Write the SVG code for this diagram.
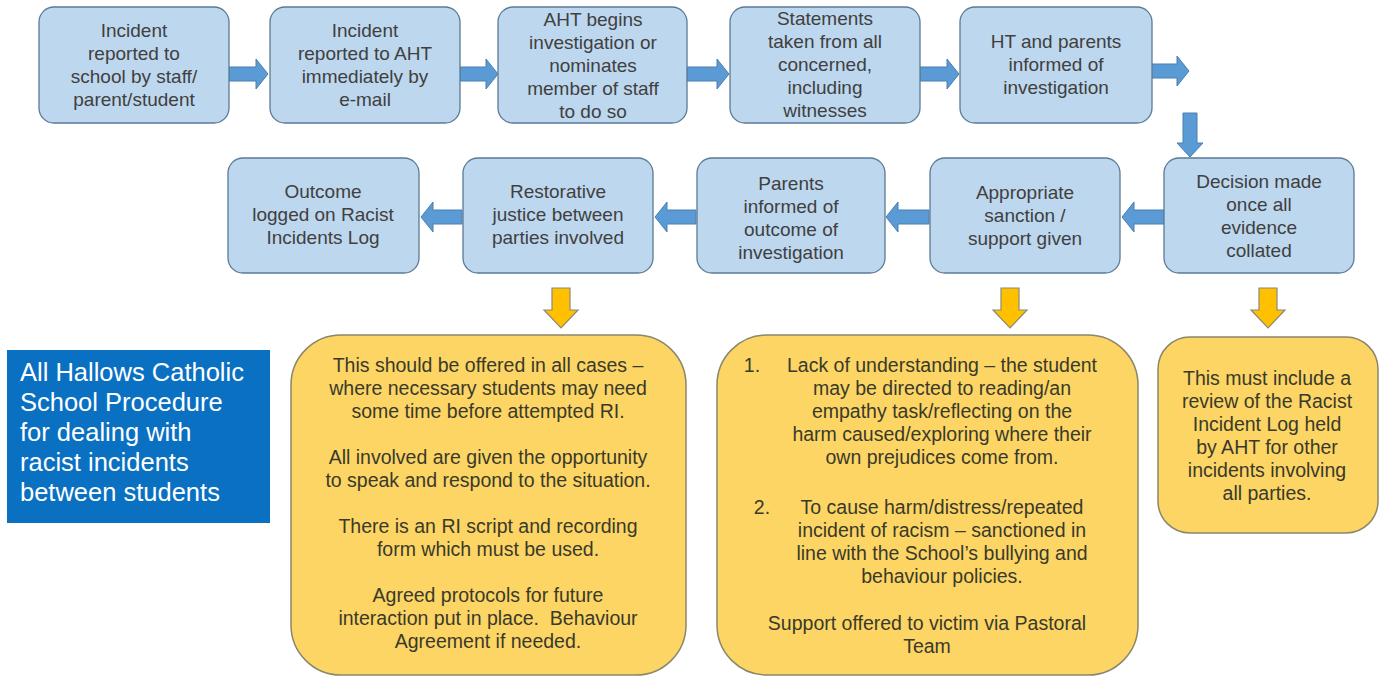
<svg xmlns="http://www.w3.org/2000/svg" width="1384" height="677" viewBox="0 0 1384 677">
<style>
.bx{fill:#bdd7ee;stroke:#5b7a96;stroke-width:1.3}
.yb{fill:#fcd565;stroke:#8a876a;stroke-width:1.5}
.t{font-family:"Liberation Sans",Arial,sans-serif;font-size:19px;fill:#404040;text-anchor:middle}
.ty{font-family:"Liberation Sans",Arial,sans-serif;font-size:19.5px;fill:#3a3a2a;text-anchor:middle}
.ttl{font-family:"Liberation Sans",Arial,sans-serif;font-size:25.5px;fill:#ffffff}
.ba{fill:#5b9bd5;stroke:#4a7fb0;stroke-width:1}
.ya{fill:#ffc000;stroke:#8a8a7a;stroke-width:1.2}
</style>
<rect width="1384" height="677" fill="#ffffff"/>
<g id="connectors">
<polygon class="ba" points="229,67 256,67 256,59 268,74 256,89 256,81 229,81"/>
<polygon class="ba" points="460,67 486,67 486,59 498,74 486,89 486,81 460,81"/>
<polygon class="ba" points="687,67 717,67 717,59 729,74 717,89 717,81 687,81"/>
<polygon class="ba" points="920,67 947,67 947,59 959,74 947,89 947,81 920,81"/>
<polygon class="ba" points="1148,64 1177,64 1177,56 1189,71 1177,86 1177,78 1148,78"/>
<polygon class="ba" points="1183,113 1197,113 1197,143 1203,143 1190,157 1177,143 1183,143"/>
<polygon class="ba" points="1164,210 1134,210 1134,202 1122,217 1134,232 1134,224 1164,224"/>
<polygon class="ba" points="929,210 898,210 898,202 886,217 898,232 898,224 929,224"/>
<polygon class="ba" points="696,210 667,210 667,202 655,217 667,232 667,224 696,224"/>
<polygon class="ba" points="462,210 433,210 433,202 421,217 433,232 433,224 462,224"/>
<polygon class="ya" points="552,288 570,288 570,310 578,310 561,328 544,310 552,310"/>
<polygon class="ya" points="1001,288 1019,288 1019,310 1027,310 1010,328 993,310 1001,310"/>
<polygon class="ya" points="1259,288 1277,288 1277,310 1285,310 1268,328 1251,310 1259,310"/>
</g>
<g id="n1"><rect class="bx" x="39" y="7" width="190" height="116" rx="15"/>
<text class="t" x="134" y="37">Incident</text><text class="t" x="134" y="60">reported to</text><text class="t" x="134" y="83">school by staff/</text><text class="t" x="134" y="106">parent/student</text></g>
<g id="n2"><rect class="bx" x="270" y="7" width="190" height="116" rx="15"/>
<text class="t" x="365" y="37">Incident</text><text class="t" x="365" y="60">reported to AHT</text><text class="t" x="365" y="83">immediately by</text><text class="t" x="365" y="106">e-mail</text></g>
<g id="n3"><rect class="bx" x="498" y="7" width="189" height="116" rx="15"/>
<text class="t" x="593" y="26">AHT begins</text><text class="t" x="593" y="49">investigation or</text><text class="t" x="593" y="72">nominates</text><text class="t" x="593" y="95">member of staff</text><text class="t" x="593" y="118">to do so</text></g>
<g id="n4"><rect class="bx" x="730" y="7" width="190" height="116" rx="15"/>
<text class="t" x="825" y="25">Statements</text><text class="t" x="825" y="48">taken from all</text><text class="t" x="825" y="71">concerned,</text><text class="t" x="825" y="94">including</text><text class="t" x="825" y="117">witnesses</text></g>
<g id="n5"><rect class="bx" x="960" y="7" width="192" height="116" rx="15"/>
<text class="t" x="1056" y="48">HT and parents</text><text class="t" x="1056" y="71">informed of</text><text class="t" x="1056" y="94">investigation</text></g>
<g id="n6"><rect class="bx" x="1164" y="158" width="190" height="115" rx="15"/>
<text class="t" x="1259" y="188">Decision made</text><text class="t" x="1259" y="211">once all</text><text class="t" x="1259" y="234">evidence</text><text class="t" x="1259" y="257">collated</text></g>
<g id="n7"><rect class="bx" x="930" y="158" width="190" height="115" rx="15"/>
<text class="t" x="1025" y="199">Appropriate</text><text class="t" x="1025" y="222">sanction /</text><text class="t" x="1025" y="245">support given</text></g>
<g id="n8"><rect class="bx" x="697" y="158" width="188" height="115" rx="15"/>
<text class="t" x="791" y="190">Parents</text><text class="t" x="791" y="213">informed of</text><text class="t" x="791" y="236">outcome of</text><text class="t" x="791" y="259">investigation</text></g>
<g id="n9"><rect class="bx" x="463" y="158" width="190" height="115" rx="15"/>
<text class="t" x="558" y="198">Restorative</text><text class="t" x="558" y="221">justice between</text><text class="t" x="558" y="244">parties involved</text></g>
<g id="n10"><rect class="bx" x="228" y="158" width="191" height="115" rx="15"/>
<text class="t" x="323" y="198">Outcome</text><text class="t" x="323" y="221">logged on Racist</text><text class="t" x="323" y="244">Incidents Log</text></g>
<g id="title"><rect x="7" y="350" width="263" height="173" fill="#0a70c2"/>
<text class="ttl" x="20" y="381">All Hallows Catholic</text><text class="ttl" x="20" y="411">School Procedure</text><text class="ttl" x="20" y="441">for dealing with</text><text class="ttl" x="20" y="471">racist incidents</text><text class="ttl" x="20" y="501">between students</text></g>
<g id="y1"><rect class="yb" x="291" y="335" width="395" height="340" rx="50"/>
<text class="ty" x="488" y="372">This should be offered in all cases –</text>
<text class="ty" x="488" y="395">where necessary students may need</text>
<text class="ty" x="488" y="418">some time before attempted RI.</text>
<text class="ty" x="488" y="464">All involved are given the opportunity</text>
<text class="ty" x="488" y="487">to speak and respond to the situation.</text>
<text class="ty" x="488" y="533">There is an RI script and recording</text>
<text class="ty" x="488" y="556">form which must be used.</text>
<text class="ty" x="488" y="602">Agreed protocols for future</text>
<text class="ty" x="488" y="625" xml:space="preserve">interaction put in place.  Behaviour</text>
<text class="ty" x="488" y="648">Agreement if needed.</text></g>
<g id="y2"><rect class="yb" x="717" y="335" width="421" height="340" rx="50"/>
<text class="ty" x="752" y="372">1.</text>
<text class="ty" x="942" y="372">Lack of understanding – the student</text>
<text class="ty" x="942" y="395">may be directed to reading/an</text>
<text class="ty" x="942" y="418">empathy task/reflecting on the</text>
<text class="ty" x="942" y="441">harm caused/exploring where their</text>
<text class="ty" x="942" y="464">own prejudices come from.</text>
<text class="ty" x="762" y="514">2.</text>
<text class="ty" x="942" y="514">To cause harm/distress/repeated</text>
<text class="ty" x="942" y="537">incident of racism – sanctioned in</text>
<text class="ty" x="942" y="560">line with the School’s bullying and</text>
<text class="ty" x="942" y="583">behaviour policies.</text>
<text class="ty" x="927" y="630">Support offered to victim via Pastoral</text>
<text class="ty" x="927" y="653">Team</text></g>
<g id="y3"><rect class="yb" x="1158" y="337" width="220" height="196" rx="32"/>
<text class="ty" x="1267" y="385">This must include a</text>
<text class="ty" x="1267" y="408">review of the Racist</text>
<text class="ty" x="1267" y="431">Incident Log held</text>
<text class="ty" x="1267" y="454">by AHT for other</text>
<text class="ty" x="1267" y="477">incidents involving</text>
<text class="ty" x="1267" y="500">all parties.</text></g>
</svg>
